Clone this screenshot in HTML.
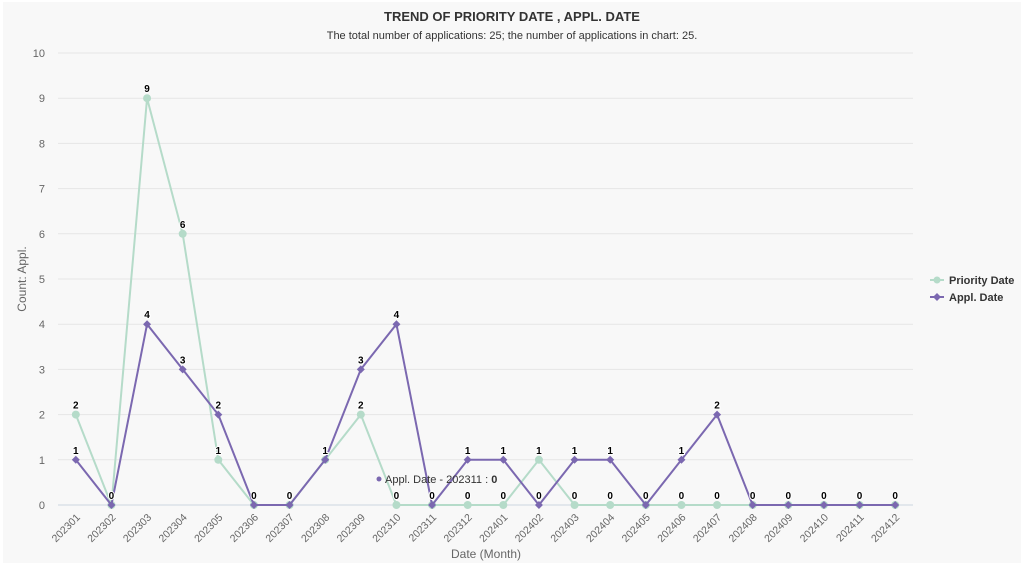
<!DOCTYPE html>
<html><head><meta charset="utf-8"><style>
body{margin:0;background:#fff;font-family:"Liberation Sans",sans-serif}
#wrap{position:absolute;left:3px;top:2px;width:1018px;height:561px;background:#f8f8f8}
</style></head><body>
<div id="wrap"></div>
<svg id="c" width="1024" height="567" style="position:absolute;left:0;top:0">
<text x="512" y="21" text-anchor="middle" font-size="13" font-weight="bold" fill="#333">TREND OF PRIORITY DATE , APPL. DATE</text>
<text x="512" y="39" text-anchor="middle" font-size="11" fill="#333">The total number of applications: 25; the number of applications in chart: 25.</text>
<text x="0" y="0" transform="translate(26,279) rotate(-90)" text-anchor="middle" font-size="12" fill="#666">Count: Appl.</text>
<text x="486" y="558" text-anchor="middle" font-size="12" fill="#666">Date (Month)</text>
<g id="grid"></g><g id="xl"></g><g id="series"></g><g id="labels"></g>
<g>
<g><line x1="930" y1="280" x2="944" y2="280" stroke="#b5dbc9" stroke-width="2"/><circle cx="937" cy="280" r="3.5" fill="#b5dbc9"/><text x="949" y="284" font-size="11" font-weight="bold" fill="#333">Priority Date</text></g>
<g><line x1="930" y1="297" x2="944" y2="297" stroke="#7b68b0" stroke-width="2"/><path d="M937,293 l4,4 l-4,4 l-4,-4z" fill="#7b68b0"/><text x="949" y="301" font-size="11" font-weight="bold" fill="#333">Appl. Date</text></g>
</g>
<g><circle cx="379" cy="479" r="2.5" fill="#7b68b0"/><text x="385" y="483" font-size="11" fill="#333">Appl. Date - 202311 : <tspan font-weight="bold">0</tspan></text></g>
</svg>
<script>
const categories=["202301","202302","202303","202304","202305","202306","202307","202308","202309","202310","202311","202312","202401","202402","202403","202404","202405","202406","202407","202408","202409","202410","202411","202412"];
const priorityValues=[2,0,9,6,1,0,0,1,2,0,0,0,0,1,0,0,0,0,0,0,0,0,0,0];
const applValues=[1,0,4,3,2,0,0,1,3,4,0,1,1,0,1,1,0,1,2,0,0,0,0,0];
const yTicks=[0,1,2,3,4,5,6,7,8,9,10];
const NS="http://www.w3.org/2000/svg";
const X0=58,X1=913,Y0=505,Y1=53,YMAX=10;
const step=(X1-X0)/categories.length;
const xs=i=>X0+step*(i+0.5);
const ys=v=>Y0-(Y0-Y1)*v/YMAX;
function mk(tag,attrs,parent){const e=document.createElementNS(NS,tag);for(const k in attrs)e.setAttribute(k,attrs[k]);parent.appendChild(e);return e;}
const grid=document.getElementById('grid');
yTicks.forEach(t=>{
 const l=mk('line',{x1:X0,x2:X1,y1:ys(t),y2:ys(t),stroke:t===0?'#ccd6e0':'#e6e6e6'},grid);
 
 
 const tx=mk('text',{x:45,y:ys(t)+4,'text-anchor':'end','font-size':11,fill:'#666'},grid);
 tx.textContent=t;
 
 
});
const xl=document.getElementById('xl');
categories.forEach((c,i)=>{
 const tx=mk('text',{x:0,y:0,transform:`translate(${xs(i)+5},${Y0+13}) rotate(-45)`,'text-anchor':'end','font-size':10.5,fill:'#666'},xl);
 tx.textContent=c;
 
 
});
const sg=document.getElementById('series');
function draw(vals,color,diamond,name){
 const p=mk('polyline',{points:vals.map((v,i)=>xs(i)+','+ys(v)).join(' '),fill:'none',stroke:color,'stroke-width':2},sg);
 
 
 vals.forEach((v,i)=>{
  const x=xs(i),y=ys(v);
  let m;
  if(diamond)m=mk('path',{d:`M${x},${y-4} l4,4 l-4,4 l-4,-4z`,fill:color},sg);
  else m=mk('circle',{cx:x,cy:y,r:4,fill:color},sg);
  
  
 });
}
draw(priorityValues,'#b5dbc9',false,'priority-date');
draw(applValues,'#7b68b0',true,'appl-date');
const lg=document.getElementById('labels');
categories.forEach((c,i)=>{
 const vs=[priorityValues[i]];
 if(applValues[i]!==priorityValues[i])vs.push(applValues[i]);
 vs.forEach(v=>{
  const t=mk('text',{x:xs(i),y:ys(v)-6,'text-anchor':'middle','font-size':10,'font-weight':'bold',fill:'#000',stroke:'#fff','stroke-width':2,'paint-order':'stroke'},lg);
  t.textContent=v;
  
  
 });
});
</script>
</body></html>
